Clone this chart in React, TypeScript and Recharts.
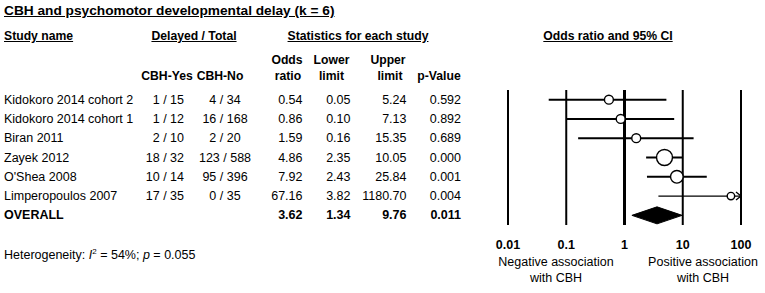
import React from 'react';
import {
  ComposedChart,
  XAxis,
  YAxis,
  Scatter,
  ReferenceLine,
  ReferenceArea,
  ReferenceDot,
} from 'recharts';

// study rows
const studies = [
  'Kidokoro 2014 cohort 2',
  'Kidokoro 2014 cohort 1',
  'Biran 2011',
  'Zayek 2012',
  "O'Shea 2008",
  'Limperopoulos 2007',
];
const cbhYes = ['1 / 15', '1 / 12', '2 / 10', '18 / 32', '10 / 14', '17 / 35'];
const cbhNo = ['4 / 34', '16 / 168', '2 / 20', '123 / 588', '95 / 396', '0 / 35'];
const oddsRatio = [0.54, 0.86, 1.59, 4.86, 7.92, 67.16];
const lowerLimit = [0.05, 0.1, 0.16, 2.35, 2.43, 3.82];
const upperLimit = [5.24, 7.13, 15.35, 10.05, 25.84, 1180.7];
const pValue = ['0.592', '0.892', '0.689', '0.000', '0.001', '0.004'];
// relative study weights (%)
const weights = [11.2, 11.2, 11.2, 36, 22.5, 7.9];

const overallOR = 3.62;
const overallLower = 1.34;
const overallUpper = 9.76;
const overallP = '0.011';

const xTicks = [0.01, 0.1, 1, 10, 100];
const NULL_VALUE = 1;

const W = 765;
const H = 293;
const PLOT_TOP = 90;
const PLOT_BOTTOM = 225;
const PLOT_LEFT = 508;
const PLOT_RIGHT = 741;
const AXIS_H = 30;
const N_ROWS = studies.length + 1;
const rowH = (PLOT_BOTTOM - PLOT_TOP) / N_ROWS;
const rowY = (i: number) => PLOT_TOP + (i + 0.5) * rowH;
const X_MAX = xTicks[xTicks.length - 1];
const Y_MIN = -0.5;
const Y_MAX = N_ROWS - 0.5;

const FONT = 'Liberation Sans, Arial, sans-serif';
const FS = 12.5;
const HFS = 12.2;

type TProps = {
  x: number;
  y: number;
  align?: 'left' | 'right' | 'center';
  bold?: boolean;
  underline?: boolean;
  size?: number;
  children: React.ReactNode;
};

const T = ({ x, y, align = 'left', bold, underline, size = FS, children }: TProps) => {
  const style: React.CSSProperties = {
    position: 'absolute',
    top: y,
    whiteSpace: 'nowrap',
    fontFamily: FONT,
    fontSize: size,
    lineHeight: '16px',
    color: '#000',
    fontWeight: bold ? 'bold' : 'normal',
    textDecoration: underline ? 'underline' : 'none',
    pointerEvents: 'none',
  };
  if (align === 'right') {
    style.right = W - x;
    style.transform = 'translateY(-50%)';
  } else if (align === 'center') {
    style.left = x;
    style.transform = 'translate(-50%, -50%)';
  } else {
    style.left = x;
    style.transform = 'translateY(-50%)';
  }
  return <div style={style}>{children}</div>;
};

const Marker = (props: any) => {
  const { cx, cy, payload } = props;
  const r = Math.sqrt(payload.w) * 1.33;
  return <circle cx={cx} cy={cy} r={r} fill="#fff" stroke="#000" strokeWidth={1.4} />;
};

const Diamond = (props: any) => {
  const { x, y, width, height } = props;
  const pts = [
    [x, y + height / 2],
    [x + width / 2, y],
    [x + width, y + height / 2],
    [x + width / 2, y + height],
  ]
    .map((p) => p.join(','))
    .join(' ');
  return <polygon points={pts} fill="#000" stroke="#000" strokeWidth={1} />;
};

const Chevron = (props: any) => {
  const { cx, cy } = props;
  return (
    <path
      d={`M${cx - 5},${cy - 4} L${cx},${cy} L${cx - 5},${cy + 4}`}
      fill="none"
      stroke="#000"
      strokeWidth={1.3}
    />
  );
};

export default function App() {
  const points = studies.map((s, i) => ({ x: oddsRatio[i], y: i, w: weights[i] }));
  const overallRow = studies.length;
  const halfDiamond = 8.5 / rowH;

  return (
    <div style={{ position: 'relative', width: W, height: H, background: '#fff' }}>
      <style>{'body{margin:0}'}</style>

      <ComposedChart
        width={W}
        height={H}
        margin={{ top: PLOT_TOP, right: W - PLOT_RIGHT, bottom: H - PLOT_BOTTOM - AXIS_H, left: PLOT_LEFT }}
      >
        <XAxis
          type="number"
          dataKey="x"
          scale="log"
          domain={[xTicks[0], X_MAX]}
          ticks={xTicks}
          height={AXIS_H}
          axisLine={{ stroke: 'none' }}
          tickLine={{ stroke: 'none' }}
          tickMargin={9}
          tick={{ fill: '#000', fontSize: FS, fontWeight: 'bold', fontFamily: FONT }}
        />
        <YAxis type="number" dataKey="y" domain={[Y_MIN, Y_MAX]} reversed hide />

        {/* decade lines, the line of no effect heavier */}
        {xTicks.map((t) => (
          <ReferenceLine
            key={'d' + t}
            x={t}
            stroke="#000"
            strokeWidth={t === NULL_VALUE ? 3 : 2}
            ifOverflow="visible"
          />
        ))}

        {/* confidence intervals */}
        {studies.map((s, i) => (
          <ReferenceLine
            key={'ci' + i}
            segment={[
              { x: lowerLimit[i], y: i },
              { x: Math.min(upperLimit[i], X_MAX), y: i },
            ]}
            stroke="#000"
            strokeWidth={upperLimit[i] > X_MAX ? 1.3 : 2}
            ifOverflow="visible"
          />
        ))}

        {studies.map((s, i) =>
          upperLimit[i] > X_MAX ? (
            <ReferenceDot key={'arr' + i} x={X_MAX} y={i} shape={Chevron} ifOverflow="visible" />
          ) : null
        )}

        <ReferenceArea
          x1={overallLower}
          x2={overallUpper}
          y1={overallRow - halfDiamond}
          y2={overallRow + halfDiamond}
          shape={Diamond}
          ifOverflow="visible"
        />

        <Scatter data={points} shape={Marker} isAnimationActive={false} />
      </ComposedChart>

      <T x={4} y={11} bold underline size={13.7}>
        CBH and psychomotor developmental delay (k = 6)
      </T>

      {/* group headers */}
      <T x={4} y={36} bold underline size={HFS}>Study name</T>
      <T x={194} y={36} align="center" bold underline size={HFS}>Delayed / Total</T>
      <T x={358} y={36} align="center" bold underline size={HFS}>Statistics for each study</T>
      <T x={608} y={36} align="center" bold underline size={HFS}>Odds ratio and 95% CI</T>

      {/* column headers */}
      <T x={167} y={76} align="center" bold size={HFS}>CBH-Yes</T>
      <T x={220} y={76} align="center" bold size={HFS}>CBH-No</T>
      <T x={287} y={60} align="center" bold size={HFS}>Odds</T>
      <T x={288} y={76} align="center" bold size={HFS}>ratio</T>
      <T x={331.5} y={60} align="center" bold size={HFS}>Lower</T>
      <T x={331.5} y={76} align="center" bold size={HFS}>limit</T>
      <T x={388} y={60} align="center" bold size={HFS}>Upper</T>
      <T x={390} y={76} align="center" bold size={HFS}>limit</T>
      <T x={439} y={76} align="center" bold size={HFS}>p-Value</T>

      {studies.map((s, i) => (
        <React.Fragment key={s}>
          <T x={4} y={rowY(i)}>{s}</T>
          <T x={184} y={rowY(i)} align="right">{cbhYes[i]}</T>
          <T x={225} y={rowY(i)} align="center">{cbhNo[i]}</T>
          <T x={302.5} y={rowY(i)} align="right">{oddsRatio[i].toFixed(2)}</T>
          <T x={350.5} y={rowY(i)} align="right">{lowerLimit[i].toFixed(2)}</T>
          <T x={406.5} y={rowY(i)} align="right">{upperLimit[i].toFixed(2)}</T>
          <T x={461} y={rowY(i)} align="right">{pValue[i]}</T>
        </React.Fragment>
      ))}

      <T x={4} y={rowY(overallRow)} bold>OVERALL</T>
      <T x={302.5} y={rowY(overallRow)} align="right" bold>{overallOR.toFixed(2)}</T>
      <T x={350.5} y={rowY(overallRow)} align="right" bold>{overallLower.toFixed(2)}</T>
      <T x={406.5} y={rowY(overallRow)} align="right" bold>{overallUpper.toFixed(2)}</T>
      <T x={461} y={rowY(overallRow)} align="right" bold>{overallP}</T>

      <T x={4} y={255}>
        Heterogeneity: <i>I</i>
        <sup style={{ fontSize: 8, verticalAlign: 5, lineHeight: 0 }}>2</sup> = 54%; <i>p</i> = 0.055
      </T>

      <T x={556} y={262} align="center">Negative association</T>
      <T x={556} y={278} align="center">with CBH</T>
      <T x={703} y={262} align="center">Positive association</T>
      <T x={703} y={278} align="center">with CBH</T>
    </div>
  );
}
